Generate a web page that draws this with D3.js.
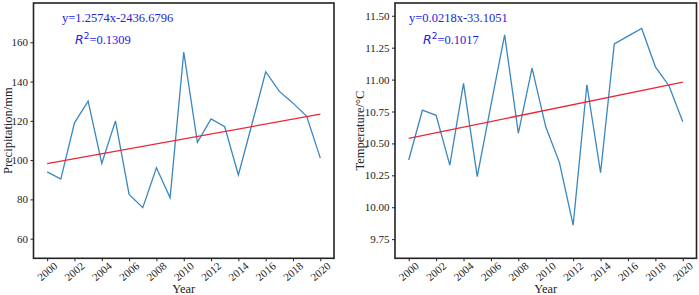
<!DOCTYPE html>
<html><head><meta charset="utf-8">
<script src="https://cdn.jsdelivr.net/npm/d3@7/dist/d3.min.js"></script>
<style>
html,body{margin:0;padding:0;background:#fff;}
svg{display:block;}
.tick text{font-family:"Liberation Serif","Times New Roman",serif;font-size:11px;fill:#222;}
</style></head>
<body><svg id="c" width="699" height="295"></svg>
<script>
const years = d3.range(2000, 2021);
const precip = [94, 90.3, 119, 130, 98.3, 120, 82.5, 75.8, 96.1, 80.8, 155, 109, 121, 117, 92.4, 118.5, 145, 135, 129, 122.3, 101];
const temp = [10.37, 10.76, 10.72, 10.33, 10.97, 10.24, 10.80, 11.35, 10.58, 11.09, 10.63, 10.35, 9.86, 10.96, 10.27, 11.28, 11.34, 11.40, 11.10, 10.95, 10.67];
const trendYears = [2000, 2020];
const precipTrend = [98.2, 123.4];
const tempTrend = [10.54, 10.98];
const xTicks = d3.range(2000, 2021, 2);
const precipTicks = [60, 80, 100, 120, 140, 160];
const tempTicks = [9.75, 10.00, 10.25, 10.50, 10.75, 11.00, 11.25, 11.50];
const panels = [
  {left:33.5, right:334, values:precip, trend:precipTrend, domain:[50,180], ticks:precipTicks, fmt:d3.format("d"),
   ylabel:"Precipitation/mm", ylabelX:7.5, eq:"y=1.2574x-2436.6796", r2:"=0.1309", eqX:62, r2X:75},
  {left:395, right:696.5, values:temp, trend:tempTrend, domain:[9.6,11.6], ticks:tempTicks, fmt:d3.format(".2f"),
   ylabel:"Temperature/°C", ylabelX:360, eq:"y=0.0218x-33.1051", r2:"=0.1017", eqX:409, r2X:423}
];
const plotTop = 3, plotBottom = 258.3;
const svg = d3.select("#c");
const serif = '"Liberation Serif","Times New Roman",serif';
panels.forEach(p => {
  const x = d3.scaleLinear().domain([1999, 2021]).range([p.left, p.right]);
  const y = d3.scaleLinear().domain(p.domain).range([plotBottom, plotTop]);
  const g = svg.append("g");
  const ya = g.append("g").attr("transform", `translate(${p.left},0)`)
    .call(d3.axisLeft(y).tickValues(p.ticks).tickFormat(p.fmt).tickSize(3).tickPadding(2.5));
  ya.select(".domain").remove();
  ya.selectAll(".tick line").attr("stroke", "#222");
  const xa = g.append("g").attr("transform", `translate(0,${plotBottom})`)
    .call(d3.axisBottom(x).tickValues(xTicks).tickFormat(d3.format("d")).tickSize(3).tickPadding(2));
  xa.select(".domain").remove();
  xa.selectAll(".tick line").attr("stroke", "#222");
  xa.selectAll(".tick text")
    .attr("y", 0).attr("dy", null)
    .attr("text-anchor", "middle")
    .attr("dominant-baseline", "central")
    .attr("transform", "translate(-0.5,13) rotate(-40)");
  const line = d3.line().x((d, i) => x(years[i])).y(d => y(d));
  g.append("path").datum(p.values).attr("d", line)
    .attr("fill", "none").attr("stroke", "#3a87c0").attr("stroke-width", 1.3);
  const tl = d3.line().x((d, i) => x(trendYears[i])).y(d => y(d));
  g.append("path").datum(p.trend).attr("d", tl)
    .attr("fill", "none").attr("stroke", "#ec2636").attr("stroke-width", 1.3);
  g.append("rect").attr("x", p.left).attr("y", plotTop).attr("width", p.right - p.left).attr("height", plotBottom - plotTop)
    .attr("fill", "none").attr("stroke", "#222").attr("stroke-width", 1.6);
  g.append("text").attr("x", (p.left + p.right) / 2).attr("y", 293)
    .attr("text-anchor", "middle").attr("font-family", serif).attr("font-size", 12.5).attr("fill", "#222").text("Year");
  g.append("text").attr("transform", `translate(${p.ylabelX},${(plotTop + plotBottom) / 2}) rotate(-90)`)
    .attr("text-anchor", "middle").attr("dominant-baseline", "central")
    .attr("font-family", serif).attr("font-size", 12.5).attr("fill", "#222").text(p.ylabel);
  g.append("text").attr("x", p.eqX).attr("y", 22).attr("font-family", serif).attr("font-size", 12.5)
    .attr("fill", "#2323dd").text(p.eq);
  const r = g.append("text").attr("x", p.r2X).attr("y", 44).attr("fill", "#2323dd");
  r.append("tspan").attr("font-family", '"DejaVu Sans",sans-serif').attr("font-style", "italic").attr("font-size", 12.5).text("R");
  r.append("tspan").attr("font-family", '"DejaVu Sans",sans-serif').attr("font-size", 9).attr("dy", -5).text("2");
  r.append("tspan").attr("font-family", serif).attr("font-size", 12.5).attr("dy", 5).text(p.r2);
});
</script></body></html>
